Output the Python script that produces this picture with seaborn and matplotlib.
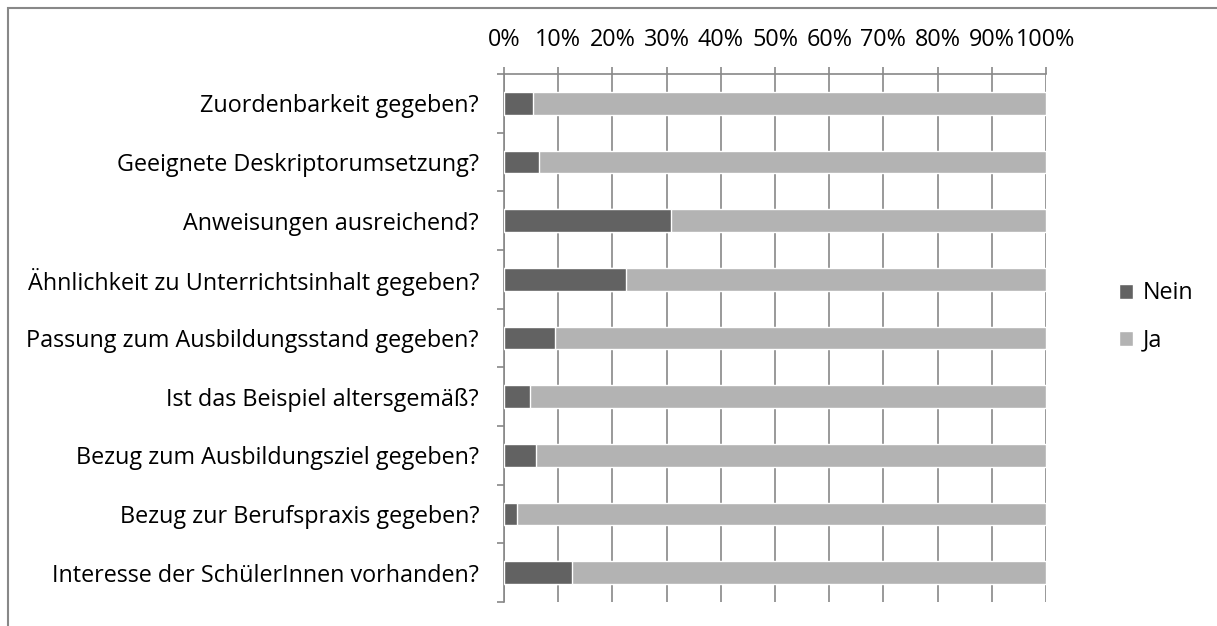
import pandas as pd
import seaborn as sns
import matplotlib.pyplot as plt
from matplotlib.patches import Rectangle
from matplotlib.ticker import MultipleLocator, FixedLocator, FuncFormatter

# Daten (Anteile in %)
fragen = [
    "Zuordenbarkeit gegeben?",
    "Geeignete Deskriptorumsetzung?",
    "Anweisungen ausreichend?",
    "Ähnlichkeit zu Unterrichtsinhalt gegeben?",
    "Passung zum Ausbildungsstand gegeben?",
    "Ist das Beispiel altersgemäß?",
    "Bezug zum Ausbildungsziel gegeben?",
    "Bezug zur Berufspraxis gegeben?",
    "Interesse der SchülerInnen vorhanden?",
]
nein = [5.4, 6.5, 30.8, 22.5, 9.5, 4.8, 5.9, 2.4, 12.5]
ja = [100 - n for n in nein]

farbe_nein = "#626262"
farbe_ja = "#b3b3b3"
grau = "#888888"

df = pd.DataFrame({"frage": fragen, "nein": nein, "ja": ja})
df["gesamt"] = df["nein"] + df["ja"]

sns.set_style("white")
plt.rcParams["font.family"] = ["Open Sans", "DejaVu Sans"]
plt.rcParams["text.color"] = "black"
plt.rcParams["xtick.labelcolor"] = "black"
plt.rcParams["ytick.labelcolor"] = "black"
fs = 16.8

fig = plt.figure(figsize=(12.17, 6.26), dpi=100)
ax = fig.add_axes([504 / 1217, 1 - 602 / 626, 542 / 1217, 528 / 626])

# Gestapelte Balken: erst die Summe (Ja), dann Nein darüber
sns.barplot(data=df, y="frage", x="gesamt", color=farbe_ja, width=0.39,
            orient="h", ax=ax, saturation=1, label="Ja", zorder=3)
sns.barplot(data=df, y="frage", x="nein", color=farbe_nein, width=0.39,
            orient="h", ax=ax, saturation=1, label="Nein", zorder=4)
handles, labels = ax.get_legend_handles_labels()
if ax.get_legend() is not None:
    ax.get_legend().remove()

ax.set_xlim(0, 100)
ax.set_ylim(len(fragen) - 0.5, -0.5)
ax.set_xlabel("")
ax.set_ylabel("")

# x-Achse oben
ax.xaxis.set_major_locator(MultipleLocator(10))
ax.xaxis.set_major_formatter(FuncFormatter(lambda v, p: f"{v:.0f}%"))
ax.xaxis.tick_top()
ax.tick_params(axis="x", which="major", direction="out", length=5, width=1.2,
               color=grau, labelsize=fs, pad=11, top=True, bottom=False)
ax.grid(axis="x", color=grau, linewidth=1.2, zorder=0)
ax.set_axisbelow(True)

# y-Achse: Striche zwischen Kategorien, Beschriftung in der Mitte
ax.yaxis.set_major_locator(FixedLocator([i - 0.5 for i in range(len(fragen) + 1)]))
ax.yaxis.set_major_formatter(FuncFormatter(lambda v, p: ""))
ax.yaxis.set_minor_locator(FixedLocator(list(range(len(fragen)))))
ax.set_yticklabels(fragen, minor=True)
ax.tick_params(axis="y", which="major", direction="out", length=5, width=1.2,
               color=grau, left=True)
ax.tick_params(axis="y", which="minor", length=0, labelsize=fs, pad=18)

for s in ["right", "bottom"]:
    ax.spines[s].set_visible(False)
for s in ["top", "left"]:
    ax.spines[s].set_color(grau)
    ax.spines[s].set_linewidth(1.2)

# Legende
order = [labels.index("Nein"), labels.index("Ja")]
fig.legend([handles[i] for i in order], [labels[i] for i in order],
           loc="center left", bbox_to_anchor=(1119 / 1217, 1 - 317 / 626),
           frameon=False, fontsize=fs, handlelength=0.6, handleheight=0.6,
           handletextpad=0.4, labelspacing=1.0, borderpad=0, borderaxespad=0)

# Rahmen um das Diagramm
fig.patches.append(Rectangle((8 / 1217, -0.1), 1.2, 1 - 8 / 626 + 0.1,
                             transform=fig.transFigure, fill=False,
                             edgecolor=grau, linewidth=1.5))

fig.savefig("out.png", dpi=100)
